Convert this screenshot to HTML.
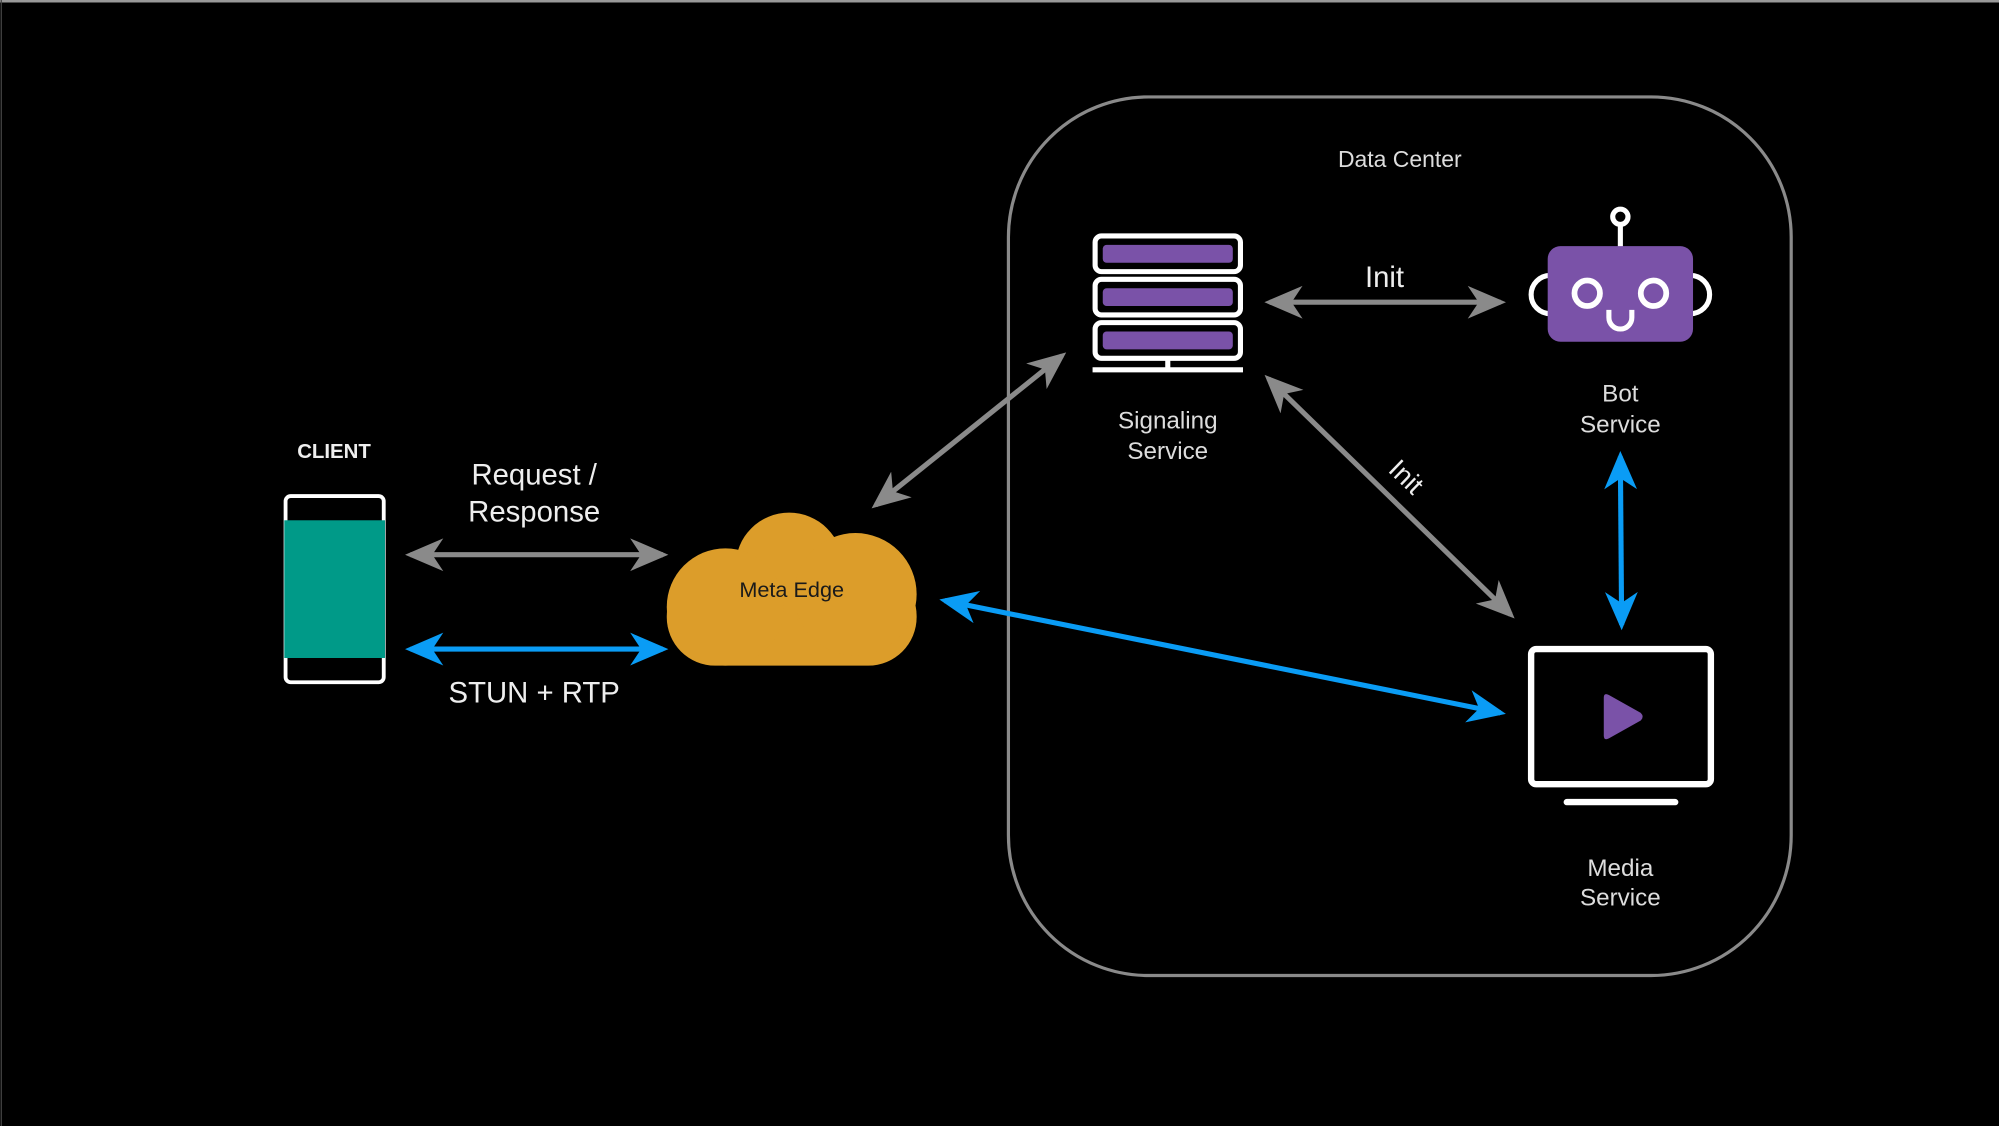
<!DOCTYPE html>
<html><head><meta charset="utf-8"><style>
html,body{margin:0;padding:0;background:#000;}
svg{display:block;}
text{font-family:"Liberation Sans",sans-serif;}
</style></head><body>
<svg width="1999" height="1126" viewBox="0 0 1568 883" preserveAspectRatio="none" xmlns="http://www.w3.org/2000/svg">
<defs>
<marker id="ag" viewBox="0 0 14 12" refX="12" refY="6" markerWidth="7.5" markerHeight="6.5" markerUnits="strokeWidth" orient="auto-start-reverse">
<path d="M0,0 L14,6 L0,12 L4,6 z" fill="#8a8a8a"/></marker>
<marker id="ab" viewBox="0 0 14 12" refX="12" refY="6" markerWidth="7.5" markerHeight="6.5" markerUnits="strokeWidth" orient="auto-start-reverse">
<path d="M0,0 L14,6 L0,12 L4,6 z" fill="#0a9cf5"/></marker>
</defs>
<rect width="1568" height="883" fill="#000"/>
<line x1="0" y1="1" x2="1568" y2="1" stroke="#999" stroke-width="2"/>
<line x1="1" y1="0" x2="1" y2="883" stroke="#444" stroke-width="1"/>
<rect x="791" y="76" width="614" height="689" rx="110" fill="none" stroke="#8a8a8a" stroke-width="2.5"/>
<text x="1098" y="131" font-size="18" fill="#ddd" text-anchor="middle">Data Center</text>

<!-- server -->
<g stroke="#fff" stroke-width="4" fill="none">
<rect x="859" y="185" width="114" height="28" rx="5"/>
<rect x="859" y="219" width="114" height="28" rx="5"/>
<rect x="859" y="253" width="114" height="28" rx="5"/>
<line x1="916" y1="282" x2="916" y2="289"/>
<line x1="857" y1="290" x2="975" y2="290"/>
</g>
<g fill="#7a52a8">
<rect x="865" y="192" width="102" height="14" rx="3"/>
<rect x="865" y="226" width="102" height="14" rx="3"/>
<rect x="865" y="260" width="102" height="14" rx="3"/>
</g>
<text x="916" y="336" font-size="19" fill="#ddd" text-anchor="middle">Signaling</text>
<text x="916" y="360" font-size="19" fill="#ddd" text-anchor="middle">Service</text>

<!-- bot -->
<circle cx="1271" cy="170" r="6" fill="none" stroke="#fff" stroke-width="4"/>
<line x1="1271" y1="176" x2="1271" y2="194" stroke="#fff" stroke-width="4"/>
<path d="M1216,216 A15,15 0 0 0 1216,246" fill="none" stroke="#fff" stroke-width="4"/>
<path d="M1326,216 A15,15 0 0 1 1326,246" fill="none" stroke="#fff" stroke-width="4"/>
<rect x="1214" y="193" width="114" height="75" rx="10" fill="#7a52a8"/>
<circle cx="1245" cy="230" r="10" fill="none" stroke="#fff" stroke-width="4.5"/>
<circle cx="1297" cy="230" r="10" fill="none" stroke="#fff" stroke-width="4.5"/>
<path d="M1262,243 L1262,249 A9,9 0 0 0 1280,249 L1280,243" fill="none" stroke="#fff" stroke-width="4"/>
<text x="1271" y="315" font-size="19" fill="#ddd" text-anchor="middle">Bot</text>
<text x="1271" y="339" font-size="19" fill="#ddd" text-anchor="middle">Service</text>

<!-- media -->
<rect x="1201" y="509" width="141" height="106" rx="4" fill="none" stroke="#fff" stroke-width="5"/>
<line x1="1229" y1="629" x2="1314" y2="629" stroke="#fff" stroke-width="5" stroke-linecap="round"/>
<path d="M1258,547 Q1258,543 1262,545 L1287,559 Q1290,562 1287,565 L1262,579 Q1258,581 1258,577 z" fill="#7a52a8"/>
<text x="1271" y="687" font-size="19" fill="#ddd" text-anchor="middle">Media</text>
<text x="1271" y="710" font-size="19" fill="#ddd" text-anchor="middle">Service</text>

<!-- client -->
<rect x="224" y="389" width="77" height="146" rx="4" fill="none" stroke="#fff" stroke-width="3"/>
<rect x="223" y="408" width="79" height="108" fill="#009a88"/>
<text x="262" y="359" font-size="16" font-weight="bold" fill="#eee" text-anchor="middle">CLIENT</text>
<text x="419" y="380" font-size="23" fill="#eee" text-anchor="middle">Request /</text>
<text x="419" y="409" font-size="23" fill="#eee" text-anchor="middle">Response</text>
<text x="419" y="551" font-size="23" fill="#eee" text-anchor="middle">STUN + RTP</text>

<!-- cloud -->
<g fill="#dc9d2a">
<rect x="523" y="445" width="196" height="77" rx="38"/>
<circle cx="619" cy="444" r="42"/>
<circle cx="671" cy="466" r="48"/>
<circle cx="569" cy="476" r="46"/>
</g>
<text x="621" y="468" font-size="17" fill="#1a1a1a" text-anchor="middle">Meta Edge</text>

<!-- arrows -->
<g stroke-width="4" fill="none">
<line x1="322" y1="435" x2="520" y2="435" stroke="#8a8a8a" marker-start="url(#ag)" marker-end="url(#ag)"/>
<line x1="322" y1="509" x2="520" y2="509" stroke="#0a9cf5" marker-start="url(#ab)" marker-end="url(#ab)"/>
<line x1="687" y1="396" x2="833" y2="279" stroke="#8a8a8a" marker-start="url(#ag)" marker-end="url(#ag)"/>
<line x1="996" y1="237" x2="1177" y2="237" stroke="#8a8a8a" marker-start="url(#ag)" marker-end="url(#ag)"/>
<line x1="995" y1="297" x2="1185" y2="482" stroke="#8a8a8a" marker-start="url(#ag)" marker-end="url(#ag)"/>
<line x1="741" y1="471" x2="1177" y2="559" stroke="#0a9cf5" marker-start="url(#ab)" marker-end="url(#ab)"/>
<line x1="1271" y1="358" x2="1272" y2="490" stroke="#0a9cf5" marker-start="url(#ab)" marker-end="url(#ab)"/>
</g>
<text x="1086" y="225" font-size="23" fill="#eee" text-anchor="middle">Init</text>
<text x="1103" y="381" font-size="21" fill="#eee" text-anchor="middle" transform="rotate(44 1103 374)">Init</text>
</svg>
</body></html>
